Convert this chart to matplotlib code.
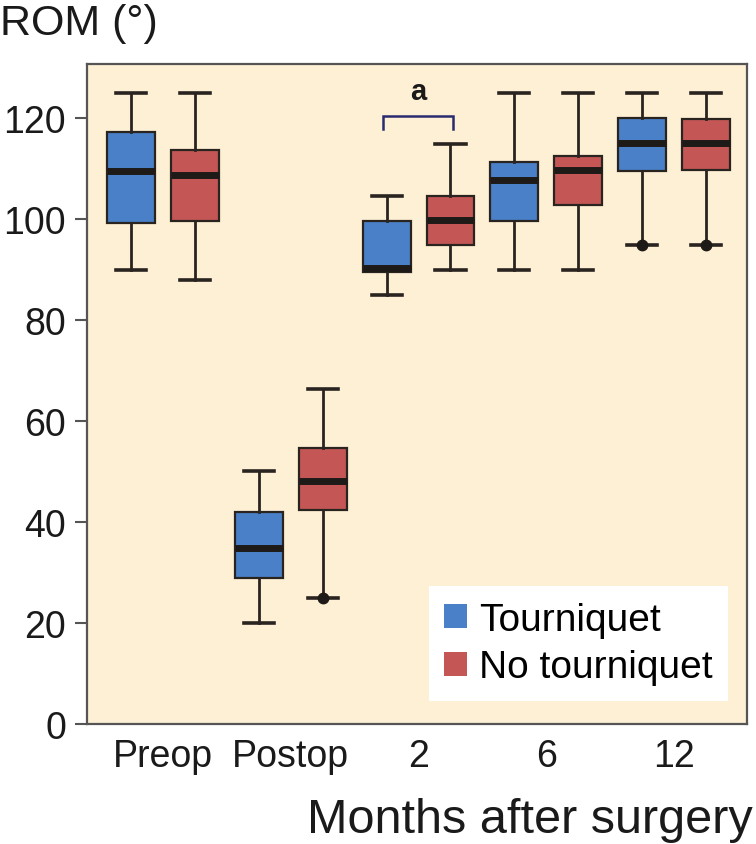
import matplotlib
matplotlib.use("Agg")
import matplotlib.pyplot as plt
from matplotlib.patches import Patch

plt.rcParams['font.family'] = ['Liberation Sans', 'DejaVu Sans']

groups = ["Preop", "Postop", "2", "6", "12"]
series = ["Tourniquet", "No tourniquet"]
colors = ["#4a80c8", "#c45656"]

# stats per group: (whislo, q1, med, q3, whishi)
tour_stats = [
    (90, 99.2, 109.6, 117.4, 125),
    (20, 29.0, 34.8, 42.1, 50.2),
    (85, 89.5, 90.4, 99.6, 104.7),
    (90, 99.7, 107.8, 111.3, 125),
    (95, 109.5, 115.2, 120.0, 125),
]
tour_fliers = [[], [], [], [], [95]]
notour_stats = [
    (88, 99.7, 108.9, 113.8, 125),
    (25, 42.5, 48.1, 54.7, 66.4),
    (90, 94.9, 99.8, 104.7, 115),
    (90, 102.9, 109.8, 112.6, 125),
    (95, 109.8, 115.2, 119.9, 125),
]
notour_fliers = [[], [25], [], [], [95]]

sig_label = "a"
sig_group = 2

fig = plt.figure(figsize=(7.56, 8.45), dpi=100)
ax = fig.add_axes([87/756, 1-725/845, 660/756, 660/845])
ax.set_facecolor("#fef0d4")

offset = 0.25
width = 0.375
for si, (stats, fliers) in enumerate([(tour_stats, tour_fliers), (notour_stats, notour_fliers)]):
    bx = []
    for (lo, q1, med, q3, hi), fl in zip(stats, fliers):
        bx.append(dict(whislo=lo, q1=q1, med=med, q3=q3, whishi=hi, fliers=fl))
    pos = [i + (offset if si else -offset) for i in range(len(groups))]
    ax.bxp(bx, positions=pos, widths=width, patch_artist=True, showfliers=True,
           boxprops=dict(facecolor=colors[si], edgecolor="#2a2420", linewidth=1.6),
           medianprops=dict(color="#1e1a18", linewidth=5, solid_capstyle='butt'),
           whiskerprops=dict(color="#2a2420", linewidth=2.0),
           capprops=dict(color="#2a2420", linewidth=2.6),
           capwidths=0.235,
           flierprops=dict(marker='o', markersize=7.5, markerfacecolor="#1e1a18",
                           markeredgecolor="#1e1a18"),
           manage_ticks=False)

# significance bracket
bl, br = sig_group - 0.28, sig_group + 0.27
ax.plot([bl, bl, br, br], [117.9, 120.5, 120.5, 117.9], color="#2a2a70", lw=1.8,
        solid_joinstyle='miter')
ax.text(sig_group, 125.4, sig_label, ha='center', va='center', fontsize=21,
        fontweight='bold', color="#1a1a1a")

ax.set_xlim(-0.594, 4.57)
ax.set_ylim(0, 130.8)
ax.set_yticks([0, 20, 40, 60, 80, 100, 120])
ax.set_xticks(range(len(groups)))
ax.set_xticklabels(groups)
ax.tick_params(axis='y', length=9, width=1.5, color="#555555", labelsize=27, pad=6,
               labelcolor="#1a1a1a")
ax.tick_params(axis='x', length=0, labelsize=27, pad=10, labelcolor="#1a1a1a")
for s in ax.spines.values():
    s.set_color("#555555")
    s.set_linewidth(1.6)

handles = [Patch(facecolor=c, edgecolor='none') for c in colors]
leg = ax.legend(handles, series, loc='lower right', bbox_to_anchor=(0.971, 0.035),
                borderaxespad=0, fontsize=28, frameon=True, fancybox=False,
                handlelength=0.58, handleheight=0.58, handletextpad=0.3,
                borderpad=0.4, labelspacing=0.3)
leg.get_frame().set_facecolor("white")
leg.get_frame().set_edgecolor("none")
leg.get_frame().set_alpha(1)

fig.text(0.0, 1-4/845, "ROM (°)", ha='left', va='top', fontsize=31, color="#1a1a1a")
fig.text(753/756, 1-833/845, "Months after surgery", ha='right', va='baseline',
         fontsize=35, color="#1a1a1a")

fig.savefig("out.png", dpi=100)
